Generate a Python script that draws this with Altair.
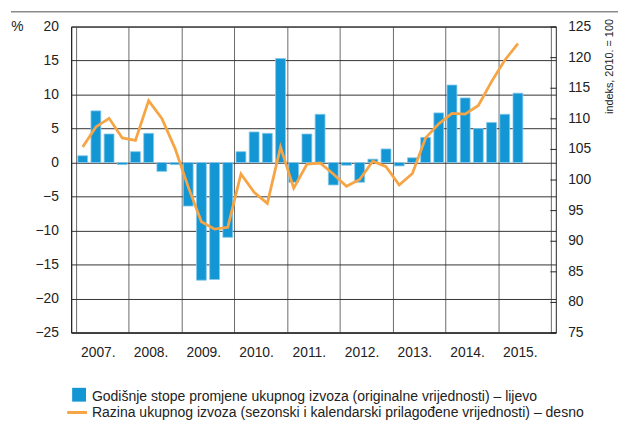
import altair as alt
import pandas as pd

# ---- data -------------------------------------------------------------
years = [2007]*4 + [2008]*4 + [2009]*4 + [2010]*4 + [2011]*4 + [2012]*4 + [2013]*4 + [2014]*4 + [2015]*2
quarters = [1, 2, 3, 4]*8 + [1, 2]

growth = [1.0, 7.6, 4.2, -0.3,
          1.6, 4.3, -1.3, -0.3,
          -6.4, -17.3, -17.2, -11.0,
          1.6, 4.5, 4.3, 15.3,
          -2.9, 4.2, 7.1, -3.3,
          -0.4, -2.9, 0.5, 2.0,
          -0.5, 0.7, 3.7, 7.3,
          11.4, 9.5, 5.0, 5.9,
          7.1, 10.2]

level = [105.3, 108.6, 110.0, 106.8,
         106.4, 112.9, 110.0, 105.1,
         98.8, 93.1, 91.9, 92.2,
         100.9, 97.9, 96.1, 105.3,
         98.6, 102.5, 102.7, 100.9,
         98.9, 100.0, 103.0, 102.1,
         99.1, 101.0, 106.8, 109.1,
         110.8, 110.7, 112.1, 116.0,
         119.5, 122.2]

left_ticks = [-25, -20, -15, -10, -5, 0, 5, 10, 15, 20]
right_ticks = [75, 80, 85, 90, 95, 100, 105, 110, 115, 120, 125]
year_ticks = [2007, 2008, 2009, 2010, 2011, 2012, 2013, 2014, 2015, 2016]

left_title = "%"
right_title = "indeks, 2010. = 100"
legend_labels = [
    "Godišnje stope promjene ukupnog izvoza (originalne vrijednosti) – lijevo",
    "Razina ukupnog izvoza (sezonski i kalendarski prilagođene vrijednosti) – desno",
]

FONT = "Liberation Sans Narrow, Arial Narrow, Liberation Sans, Arial, sans-serif"
BLUE = "#1396d4"
ORANGE = "#f7a444"
TXT = "#222"

df = pd.DataFrame({"year": years, "q": quarters, "growth": growth, "level": level})
df["t"] = df["year"] + (df["q"] - 0.5) / 4

W, H = 491, 310

xenc = alt.X(
    "t:Q",
    scale=alt.Scale(domain=[2007, 2016], nice=False, zero=False),
    axis=alt.Axis(
        values=year_ticks, grid=True, gridColor="#6a6a6a", gridWidth=1,
        ticks=False, domain=True, domainColor="#222",
        labelExpr="datum.value >= 2016 ? '' : format(datum.value, 'd') + '.'",
        labelOffset=22, labelPadding=13, labelFlush=False, labelOverlap=False,
        labelFontSize=14, labelFont=FONT, labelColor=TXT, title=None,
    ),
)

bars = alt.Chart(df).mark_bar(
    size=10, color=BLUE, stroke="#86c9ec", strokeWidth=0.8, orient="vertical"
).encode(
    x=xenc,
    y=alt.Y(
        "growth:Q",
        scale=alt.Scale(domain=[-25, 20], nice=False),
        axis=alt.Axis(
            values=left_ticks, grid=True, gridColor="#333", gridWidth=1,
            ticks=False, domain=True, domainColor="#222",
            labelPadding=13, labelFontSize=14, labelFont=FONT, labelColor=TXT,
            title=left_title, titleAngle=0, titleX=-55, titleY=0,
            titleAlign="center", titleBaseline="middle",
            titleFontSize=14, titleFont=FONT, titleFontWeight="normal", titleColor=TXT,
        ),
    ),
)

line = alt.Chart(df).mark_line(color=ORANGE, strokeWidth=2.8).encode(
    x=xenc,
    y=alt.Y(
        "level:Q",
        scale=alt.Scale(domain=[75, 125], nice=False, zero=False),
        axis=alt.Axis(
            orient="right", values=right_ticks, grid=False, domain=False,
            ticks=True, tickSize=6, tickColor="#222", offset=-6,
            labelPadding=12, labelFontSize=14, labelFont=FONT, labelColor=TXT,
            title=right_title, titleAngle=270, titleX=63, titleY=40,
            titleAlign="center", titleBaseline="alphabetic",
            titleFontSize=11, titleFont=FONT, titleFontWeight="normal", titleColor=TXT,
        ),
    ),
)

one = pd.DataFrame({"k": [0]})

top_rule = alt.Chart(one).mark_rule(color="#8a8a8a", strokeWidth=1.5).encode(
    x=alt.value(-61), x2=alt.value(570), y=alt.value(-15)
)

leg_square = alt.Chart(one).mark_point(
    shape="square", filled=True, color=BLUE, size=196, opacity=1
).encode(x=alt.value(8), y=alt.value(373))

leg_line = alt.Chart(one).mark_rule(color=ORANGE, strokeWidth=3).encode(
    x=alt.value(-4), x2=alt.value(16), y=alt.value(391)
)

leg_text1 = alt.Chart(one).mark_text(
    text=legend_labels[0], align="left", baseline="alphabetic",
    font=FONT, fontSize=14.2, color=TXT
).encode(x=alt.value(21), y=alt.value(379))

leg_text2 = alt.Chart(one).mark_text(
    text=legend_labels[1], align="left", baseline="alphabetic",
    font=FONT, fontSize=14.2, color=TXT
).encode(x=alt.value(21), y=alt.value(396))

chart = alt.layer(
    bars, line, top_rule, leg_square, leg_line, leg_text1, leg_text2
).resolve_scale(y="independent").properties(
    width=W, height=H,
    autosize=alt.AutoSizeParams(type="none"),
    padding={"left": 64, "top": 16, "right": 63, "bottom": 100},
).configure_view(stroke="#222", strokeWidth=1)

chart.save("out.html", embed_options={"renderer": "svg", "actions": False})
